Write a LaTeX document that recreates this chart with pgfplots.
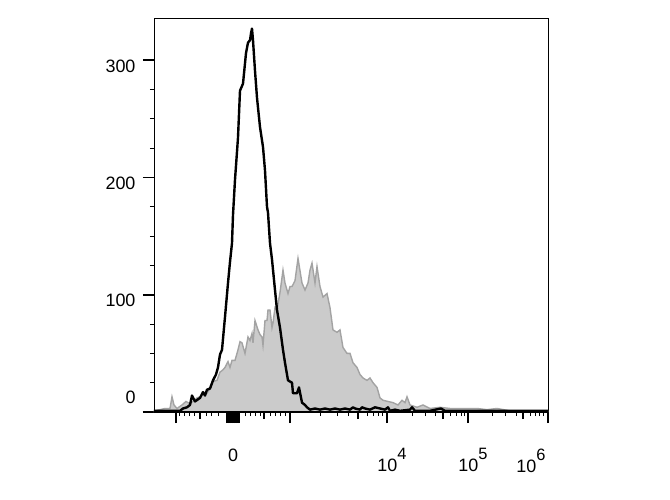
\documentclass[border=0pt]{standalone}
\usepackage{pgfplots}
\pgfplotsset{compat=1.18}
\usepackage{fontspec}
\setmainfont{Liberation Sans}
\definecolor{histfill}{HTML}{CBCBCB}
\definecolor{histline}{HTML}{A3A3A3}
\newcommand{\lbl}{\fontsize{18}{20}\selectfont}
\newcommand{\sx}[1]{{\lbl 10\raisebox{12bp}{\fontsize{16.5}{16}\selectfont #1}}}
\begin{document}
\begin{tikzpicture}
\path[use as bounding box] (-154bp,-88bp) rectangle (516bp,412bp);
\begin{axis}[
  at={(0,0)}, anchor=south west,
  scale only axis, width=394bp, height=394bp,
  xmin=154, xmax=548, ymin=0, ymax=336,
  axis line style={line width=0.8bp},
  tick align=outside,
  xtick pos=bottom, ytick pos=left,
  major tick length=11bp, minor tick length=4bp,
  major tick style={line width=1.8bp, black},
  minor tick style={line width=1bp, black},
  /pgf/number format/assume math mode=true,
  xtick={176,227,229,231,233,235,237,239,290,387,468,548},
  xticklabels={,,,,{\lbl 0},,,,,\hspace*{10bp}\sx{4},\hspace*{10bp}\sx{5},\hspace*{-34bp}\sx{6}},
  minor xtick={180,185,190,195,207,212,218,245,250,255,260,270,275,280,285,320,337,348,367,373,378,382,412,425,435,450,456,461,464,492,505,516,530,535,539,543},
  extra x ticks={200,264,358,443,523},
  extra x tick labels={,,,,},
  extra x tick style={major tick length=7bp, major tick style={line width=1.5bp}},
  xticklabel style={yshift=-22bp},
  ytick={0,100,200,300},
  yticklabels={,{\lbl 100},{\lbl 200},{\lbl 300}},
  minor y tick num=3,
  yticklabel style={yshift=-6bp, xshift=-4bp},
  extra y ticks={0},
  extra y tick labels={{\lbl 0}},
  extra y tick style={yticklabel style={yshift=21bp}},
]
\addplot[fill=histfill, draw=histline, line width=1.4bp] table {
x y
154 1
160 2
165 3
170 3
172 13
174 6
177 3
182 6
186 9
190 7
193 9
197 12
200 13
204 16
207 16
210 20
213 26
217 27
220 34
223 36
225 38
228 43
230 38
232 44
235 44
238 53
240 60
242 59
245 50
248 64
250 61
252 67
253 59
255 78
258 70
260 66
262 64
263 57
265 78
267 78
268 87
270 87
272 72
273 76
275 89
277 87
280 102
283 121
285 110
288 101
290 107
292 107
295 112
298 131
302 110
305 104
308 110
310 121
312 127
315 110
317 124
320 107
323 98
327 101
330 89
333 70
337 68
340 70
343 55
347 50
350 50
353 42
357 38
360 32
363 29
367 27
370 29
373 25
377 21
380 12
383 10
388 9
393 8
398 6
402 10
405 8
407 13
410 6
417 4
423 6
430 3
440 4
450 3
463 3
477 3
487 2
497 3
510 1
530 1
548 1
} \closedcycle;
\addplot[black, line width=2.4bp, line join=round] table {
x y
154 1
170 1
180 1
183 3
187 4
190 6
192 14
195 9
200 12
203 17
205 14
207 19
210 20
213 27
216 32
218 38
220 49
222 53
225 81
228 110
230 128
232 144
233 168
235 198
238 234
240 274
243 280
246 306
248 315
250 317
251 323
252 327
253 317
255 291
257 268
260 243
263 226
265 206
267 175
268 170
270 144
272 130
275 104
277 87
280 72
283 53
285 42
288 27
290 26
292 25
293 16
297 16
299 21
302 8
305 6
307 4
310 2
315 3
320 2
325 3
330 2
335 3
340 2
345 3
350 2
353 4
355 3
360 2
362 4
365 3
370 2
375 4
380 3
385 2
388 4
390 1
395 2
400 1
410 2
412 4
415 1
420 1
430 1
441 3
445 1
460 1
480 1
500 1
520 1
548 1
};
\draw[line width=2bp] (rel axis cs:0,0) -- (rel axis cs:1,0);
\end{axis}
\end{tikzpicture}
\end{document}
